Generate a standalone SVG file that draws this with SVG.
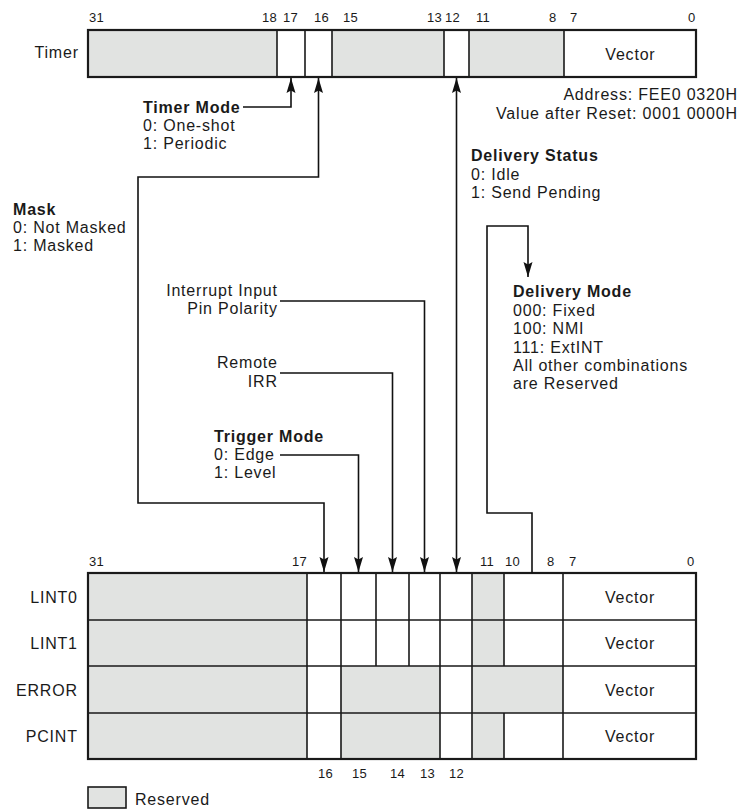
<svg xmlns="http://www.w3.org/2000/svg" width="743" height="810" viewBox="0 0 743 810">
<defs>
<style>
.t{font-family:"Liberation Sans",Arial,Helvetica,sans-serif;font-size:16px;letter-spacing:0.8px;fill:#1a1a1a}
.b{font-weight:bold}
.n{font-size:13px;letter-spacing:0.2px}
.e{text-anchor:end}
.m{text-anchor:middle}
.res{fill:#e1e3e1}
.wh{fill:#fff}
.dv{stroke:#1a1a1a;stroke-width:1.6;fill:none}
.fr{fill:none;stroke:#1a1a1a;stroke-width:2.2}
.c{stroke:#111;stroke-width:1.6;fill:none}
.ae{marker-end:url(#ah)}
.as{marker-start:url(#ah)}
</style>
<marker id="ah" markerUnits="userSpaceOnUse" markerWidth="16" markerHeight="10" refX="15" refY="5" orient="auto-start-reverse" viewBox="0 0 16 10">
<path d="M0,0.5 L15,5 L0,9.5 L2.5,5 Z" fill="#111"/>
</marker>
</defs>
<rect width="743" height="810" fill="#fff"/>

<g id="timer">
<rect x="88" y="30" width="608" height="47" class="wh"/>
<rect x="88" y="30" width="189" height="47" class="res"/>
<rect x="332" y="30" width="112" height="47" class="res"/>
<rect x="469" y="30" width="95" height="47" class="res"/>
<path class="dv" d="M277,30V77M305,30V77M332,30V77M444,30V77M469,30V77M564,30V77"/>
<rect x="88" y="30" width="608" height="47" class="fr"/>
<text class="t e" x="78.8" y="58">Timer</text>
<text class="t m" x="630.4" y="59.5">Vector</text>
<text class="t e" x="737.8" y="100">Address: FEE0 0320H</text>
<text class="t e" x="737.8" y="119">Value after Reset: 0001 0000H</text>
</g>
<g id="timer-bits">
<text class="t n" x="89" y="22">31</text>
<text class="t n" x="262" y="22">18</text>
<text class="t n" x="283" y="22">17</text>
<text class="t n" x="314" y="22">16</text>
<text class="t n" x="343" y="22">15</text>
<text class="t n" x="427" y="22">13</text>
<text class="t n" x="445" y="22">12</text>
<text class="t n" x="476" y="22">11</text>
<text class="t n" x="549" y="22">8</text>
<text class="t n" x="570" y="22">7</text>
<text class="t n" x="688" y="22">0</text>
</g>

<g id="lvt">
<g id="lint0">
<rect x="88" y="573" width="608" height="47" class="wh"/>
<rect x="88" y="573" width="219" height="47" class="res"/>
<rect x="472" y="573" width="32" height="47" class="res"/>
<path class="dv" d="M307,573V620M341,573V620M376,573V620M409,573V620M440,573V620M472,573V620M504,573V620M563,573V620"/>
<text class="t e" x="77.8" y="602.5">LINT0</text>
<text class="t m" x="630" y="602.5">Vector</text>
</g>
<g id="lint1">
<rect x="88" y="620" width="608" height="46" class="wh"/>
<rect x="88" y="620" width="219" height="46" class="res"/>
<rect x="472" y="620" width="32" height="46" class="res"/>
<path class="dv" d="M307,620V666M341,620V666M376,620V666M409,620V666M440,620V666M472,620V666M504,620V666M563,620V666"/>
<text class="t e" x="77.8" y="649">LINT1</text>
<text class="t m" x="630" y="649">Vector</text>
</g>
<g id="error">
<rect x="88" y="666" width="608" height="47" class="wh"/>
<rect x="88" y="666" width="219" height="47" class="res"/>
<rect x="341" y="666" width="99" height="47" class="res"/>
<rect x="472" y="666" width="91" height="47" class="res"/>
<path class="dv" d="M307,666V713M341,666V713M440,666V713M472,666V713M563,666V713"/>
<text class="t e" x="77.8" y="695.5">ERROR</text>
<text class="t m" x="630" y="695.5">Vector</text>
</g>
<g id="pcint">
<rect x="88" y="713" width="608" height="46" class="wh"/>
<rect x="88" y="713" width="219" height="46" class="res"/>
<rect x="341" y="713" width="99" height="46" class="res"/>
<rect x="472" y="713" width="32" height="46" class="res"/>
<path class="dv" d="M307,713V759M341,713V759M440,713V759M472,713V759M504,713V759M563,713V759"/>
<text class="t e" x="77.8" y="742">PCINT</text>
<text class="t m" x="630" y="742">Vector</text>
</g>
<path class="dv" d="M88,620H696M88,666H696M88,713H696"/>
<rect x="88" y="573" width="608" height="186" class="fr"/>
</g>
<g id="lvt-bits">
<text class="t n" x="89" y="566">31</text>
<text class="t n" x="292" y="566">17</text>
<text class="t n" x="480" y="566">11</text>
<text class="t n" x="505" y="566">10</text>
<text class="t n" x="547" y="566">8</text>
<text class="t n" x="569" y="566">7</text>
<text class="t n" x="687" y="566">0</text>
<text class="t n" x="318" y="778">16</text>
<text class="t n" x="352" y="778">15</text>
<text class="t n" x="390" y="778">14</text>
<text class="t n" x="420" y="778">13</text>
<text class="t n" x="449" y="778">12</text>
</g>

<g id="timer-mode">
<text class="t b" x="143" y="113">Timer Mode</text>
<text class="t" x="143" y="131">0: One-shot</text>
<text class="t" x="143" y="149">1: Periodic</text>
</g>
<g id="mask">
<text class="t b" x="13" y="215">Mask</text>
<text class="t" x="13" y="233">0: Not Masked</text>
<text class="t" x="13" y="251">1: Masked</text>
</g>
<g id="delivery-status">
<text class="t b" x="471" y="161">Delivery Status</text>
<text class="t" x="471" y="180">0: Idle</text>
<text class="t" x="471" y="198">1: Send Pending</text>
</g>
<g id="pin-polarity">
<text class="t e" x="277.8" y="296">Interrupt Input</text>
<text class="t e" x="277.8" y="314">Pin Polarity</text>
</g>
<g id="remote-irr">
<text class="t e" x="277.8" y="368">Remote</text>
<text class="t e" x="277.8" y="387">IRR</text>
</g>
<g id="delivery-mode">
<text class="t b" x="513" y="297">Delivery Mode</text>
<text class="t" x="513" y="316">000: Fixed</text>
<text class="t" x="513" y="334">100: NMI</text>
<text class="t" x="513" y="353">111: ExtINT</text>
<text class="t" x="513" y="371">All other combinations</text>
<text class="t" x="513" y="389">are Reserved</text>
</g>
<g id="trigger-mode">
<text class="t b" x="214" y="442">Trigger Mode</text>
<text class="t" x="214" y="460">0: Edge</text>
<text class="t" x="214" y="478">1: Level</text>
</g>
<g id="legend">
<rect x="88" y="787" width="38" height="21" class="res" stroke="#1a1a1a" stroke-width="1.6"/>
<text class="t" x="135" y="805">Reserved</text>
</g>

<g id="connectors">
<path class="c ae" d="M243,107H291V78"/>
<path class="c as ae" d="M318.5,78V177H138V503H324V572"/>
<path class="c ae" d="M280,301H424.5V572"/>
<path class="c ae" d="M280,373H392.5V572"/>
<path class="c ae" d="M280,455H358.5V572"/>
<path class="c as ae" d="M456.5,78V572"/>
<path class="c ae" d="M532,573V513H487V226H528V277"/>
</g>
</svg>
